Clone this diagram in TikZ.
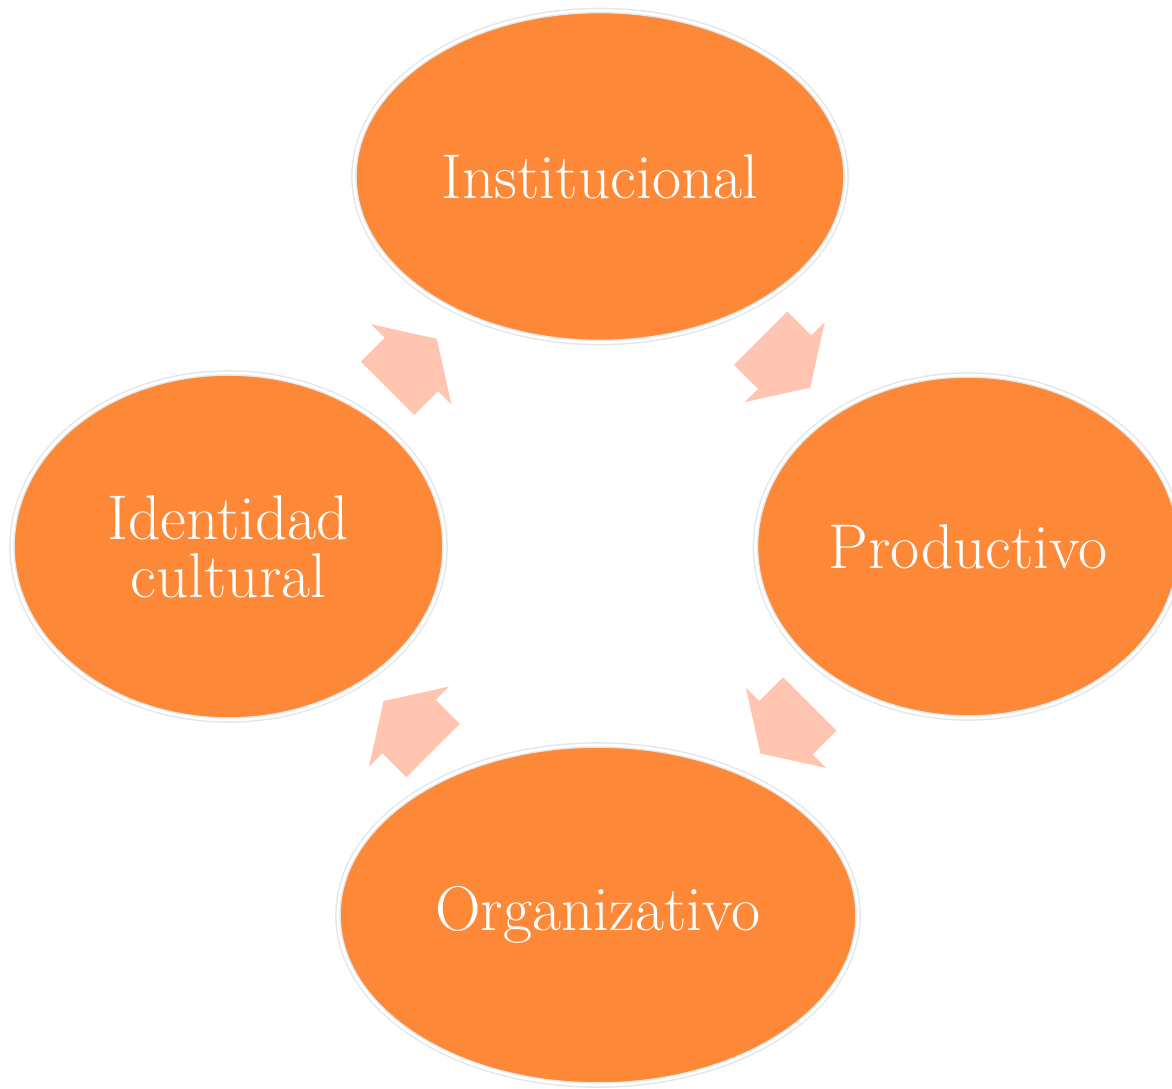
\documentclass[tikz,border=0pt]{standalone}
\usepackage{tikz}
\usetikzlibrary{shapes.geometric,shapes.arrows,calc}
\definecolor{ciclo}{HTML}{FD8838}
\definecolor{flecha}{HTML}{FFC5B0}

\begin{document}
\begin{tikzpicture}[thick,
  main node/.style={ellipse,fill=ciclo,draw=black!10,double=white,double distance=1.6pt,
    inner sep=0pt,text=white,align=center,font=\fontsize{36}{33}\selectfont},
  link/.style={single arrow,fill=flecha,draw=none,inner xsep=0pt,inner ysep=0.74cm,
    minimum height=1.4cm,
    single arrow head extend=0.38cm,single arrow tip angle=115}]

  \useasboundingbox (0,0) rectangle (23.44,-21.76);

  \node[main node,minimum width=9.84cm,minimum height=6.64cm] (inst) at (12.0,-3.53) {Institucional};
  \node[main node,minimum width=8.5cm,minimum height=6.86cm] (prod) at (19.36,-10.93) {Productivo};
  \node[main node,minimum width=10.4cm,minimum height=6.8cm] (org) at (11.96,-18.3) {Organizativo};
  \node[main node,minimum width=8.66cm,minimum height=6.94cm] (ident) at (4.57,-10.93) {Identidad\\cultural};

  \node[link,rotate=-45] (a1) at ($(inst)!0.5!(prod)!0.2cm!(inst)$) {};
  \node[link,rotate=-135] (a2) at ($(prod)!0.5!(org)!0.3cm!(prod)$) {};
  \node[link,rotate=135] (a3) at ($(org)!0.5!(ident)!0.1cm!(org)$) {};
  \node[link,rotate=45] (a4) at ($(ident)!0.5!(inst)!0.3cm!(ident)$) {};
\end{tikzpicture}
\end{document}
